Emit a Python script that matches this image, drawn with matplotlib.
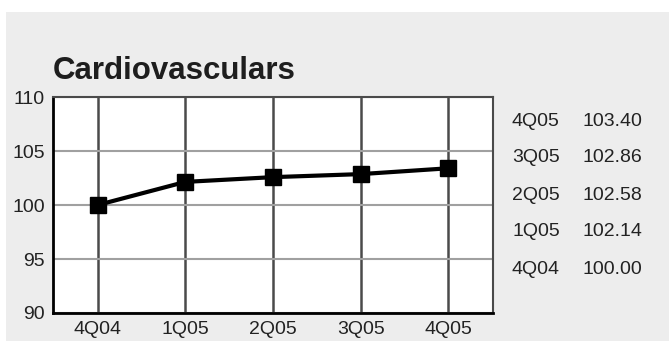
import matplotlib.pyplot as plt
from matplotlib.patches import Rectangle

quarters = ["4Q04", "1Q05", "2Q05", "3Q05", "4Q05"]
index_values = [100.00, 102.14, 102.58, 102.86, 103.40]
y_ticks = [90, 95, 100, 105, 110]

plt.rcParams['font.family'] = ['Liberation Sans', 'DejaVu Sans']

W, H = 669, 341
fig = plt.figure(figsize=(W / 100, H / 100), dpi=100, facecolor="white")

# light gray panel behind everything
fig.patches.append(Rectangle((6 / W, 0), 1 - 6 / W, 1 - 12 / H,
                             transform=fig.transFigure, facecolor="#ededed",
                             edgecolor="none", zorder=-5))

ax = fig.add_axes([53 / W, 1 - 313 / H, (493 - 53) / W, (313 - 97) / H])
ax.set_zorder(2)
ax.set_facecolor("white")

xs = range(len(quarters))
ax.plot(xs, index_values, color="black", lw=3, marker="s", markersize=12,
        zorder=3, clip_on=False)

ax.set_xlim(-0.51, 4.51)
ax.set_ylim(90, 110)
ax.set_xticks(list(xs))
ax.set_xticklabels(quarters)
ax.set_yticks(y_ticks)

ax.grid(axis="x", color="#4a4a4a", lw=1.8)
ax.grid(axis="y", color="#a0a0a0", lw=1.5)
ax.set_axisbelow(True)

ax.tick_params(length=0, labelsize=14, colors="#222222", pad=6)
ax.tick_params(axis="x", pad=6)

for side in ["left", "bottom"]:
    ax.spines[side].set_color("black")
    ax.spines[side].set_linewidth(2)
for side in ["top", "right"]:
    ax.spines[side].set_color("#4a4a4a")
    ax.spines[side].set_linewidth(1.5)

fig.text(53 / W, 1 - 79 / H, "Cardiovasculars", fontsize=22.5, fontweight="bold",
         color="#1e1e1e", ha="left", va="baseline")

# value table on the right, newest first
for i, (q, v) in enumerate(zip(quarters[::-1], index_values[::-1])):
    y = 1 - (121 + i * 37) / H
    fig.text(512 / W, y, q, fontsize=14, color="#222222", va="center")
    fig.text(583 / W, y, f"{v:.2f}", fontsize=14, color="#222222", va="center")

fig.savefig("out.png", dpi=100, facecolor="white")
